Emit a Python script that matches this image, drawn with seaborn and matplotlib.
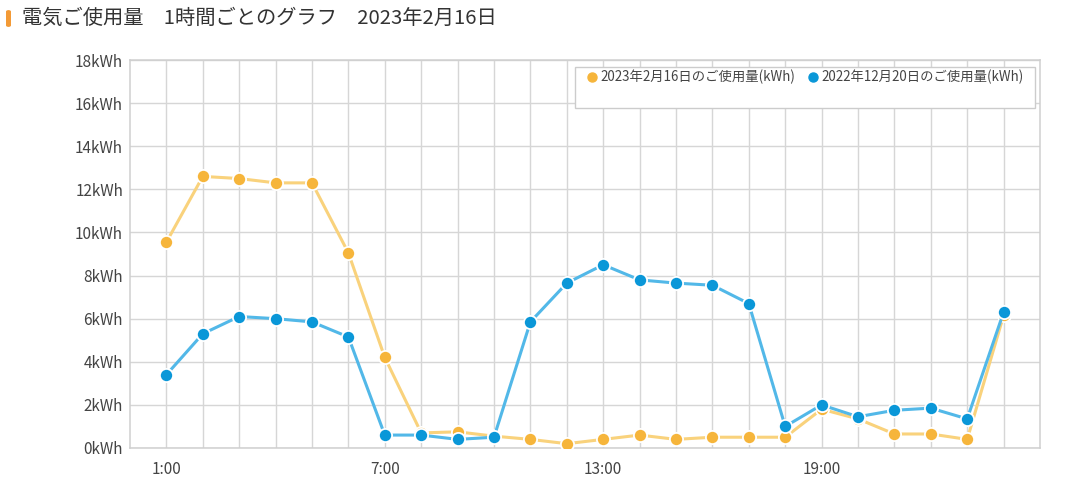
import numpy as np
import pandas as pd
import matplotlib.pyplot as plt
import seaborn as sns
from matplotlib.patches import Rectangle, FancyBboxPatch
from matplotlib.lines import Line2D

# hourly usage, kWh
hours = list(range(1, 25))
usage_20230216 = [9.55, 12.6, 12.5, 12.3, 12.3, 9.05, 4.2, 0.7, 0.75, 0.55, 0.4, 0.2,
                  0.4, 0.6, 0.4, 0.5, 0.5, 0.5, 1.8, 1.35, 0.65, 0.65, 0.4, 6.15]
usage_20221220 = [3.4, 5.3, 6.1, 6.0, 5.85, 5.15, 0.6, 0.6, 0.4, 0.5, 5.85, 7.65,
                  8.5, 7.8, 7.65, 7.55, 6.7, 1.0, 2.0, 1.45, 1.75, 1.85, 1.35, 6.3]
label_a = '2023年2月16日のご使用量(kWh)'
label_b = '2022年12月20日のご使用量(kWh)'
title = '電気ご使用量　1時間ごとのグラフ　2023年2月16日'
x_ticks = [1, 7, 13, 19]
x_tick_labels = ['1:00', '7:00', '13:00', '19:00']
y_ticks = list(range(0, 19, 2))

sns.set_style('white')
plt.rcParams['font.family'] = ['Noto Sans CJK JP', 'DejaVu Sans']

fig = plt.figure(figsize=(10.68, 4.91), dpi=100)
ax = fig.add_axes([130 / 1068, 1 - 448 / 491, 910 / 1068, 388 / 491])

df = pd.DataFrame({'hour': hours, 'a': usage_20230216, 'b': usage_20221220})

sns.lineplot(data=df, x='hour', y='a', ax=ax, color='#f9d27c', linewidth=2.2,
             marker='o', markersize=9.5, markerfacecolor='#f6b53b',
             markeredgecolor='white', markeredgewidth=1.3, zorder=3)
sns.lineplot(data=df, x='hour', y='b', ax=ax, color='#52b8e8', linewidth=2.2,
             marker='o', markersize=9.5, markerfacecolor='#0a97d8',
             markeredgecolor='white', markeredgewidth=1.3, zorder=4)

ax.set_xlim(0, 25)
ax.set_ylim(0, 18)
ax.set_xticks(x_ticks)
ax.set_xticklabels(x_tick_labels)
ax.set_xticks(hours, minor=True)
ax.set_yticks(y_ticks)
ax.set_yticklabels([f'{v}kWh' for v in y_ticks])
ax.grid(True, which='both', color='#d6d6d6', linewidth=1.0, zorder=0)
ax.set_axisbelow(True)
ax.tick_params(axis='both', which='both', length=0, labelsize=11, colors='#444444')
ax.tick_params(axis='x', pad=9)
ax.tick_params(axis='y', pad=5)
ax.set_xlabel('')
ax.set_ylabel('')
for s in ax.spines.values():
    s.set_color('#cfcfcf')
    s.set_linewidth(1.1)

# legend box
ax.add_patch(Rectangle((575 / 1068, 1 - 108 / 491), 460 / 1068, 41 / 491,
                       transform=fig.transFigure, facecolor='white',
                       edgecolor='#cccccc', linewidth=1, zorder=5))
handles = [Line2D([], [], linestyle='none', marker='o', markersize=6.5, color='#f6b53b'),
           Line2D([], [], linestyle='none', marker='o', markersize=6.5, color='#0a97d8')]
leg = fig.legend(handles, [label_a, label_b], ncol=2, frameon=False,
                 loc='center left', bbox_to_anchor=(581 / 1068, 1 - 77 / 491),
                 fontsize=9.6, handlelength=0.6, handletextpad=0.35, columnspacing=1.0,
                 borderpad=0, labelcolor='#444444')
leg.set_zorder(6)

# title with orange marker
fig.patches.append(FancyBboxPatch((6 / 1068, 1 - 27 / 491), 5 / 1068, 17 / 491,
                                  boxstyle='round,pad=0,rounding_size=0.003',
                                  transform=fig.transFigure, facecolor='#f39a36',
                                  edgecolor='none'))
fig.text(22 / 1068, 1 - 18 / 491, title, fontsize=14.6, color='#333333', va='center', ha='left')

plt.savefig('out.png', dpi=100)
